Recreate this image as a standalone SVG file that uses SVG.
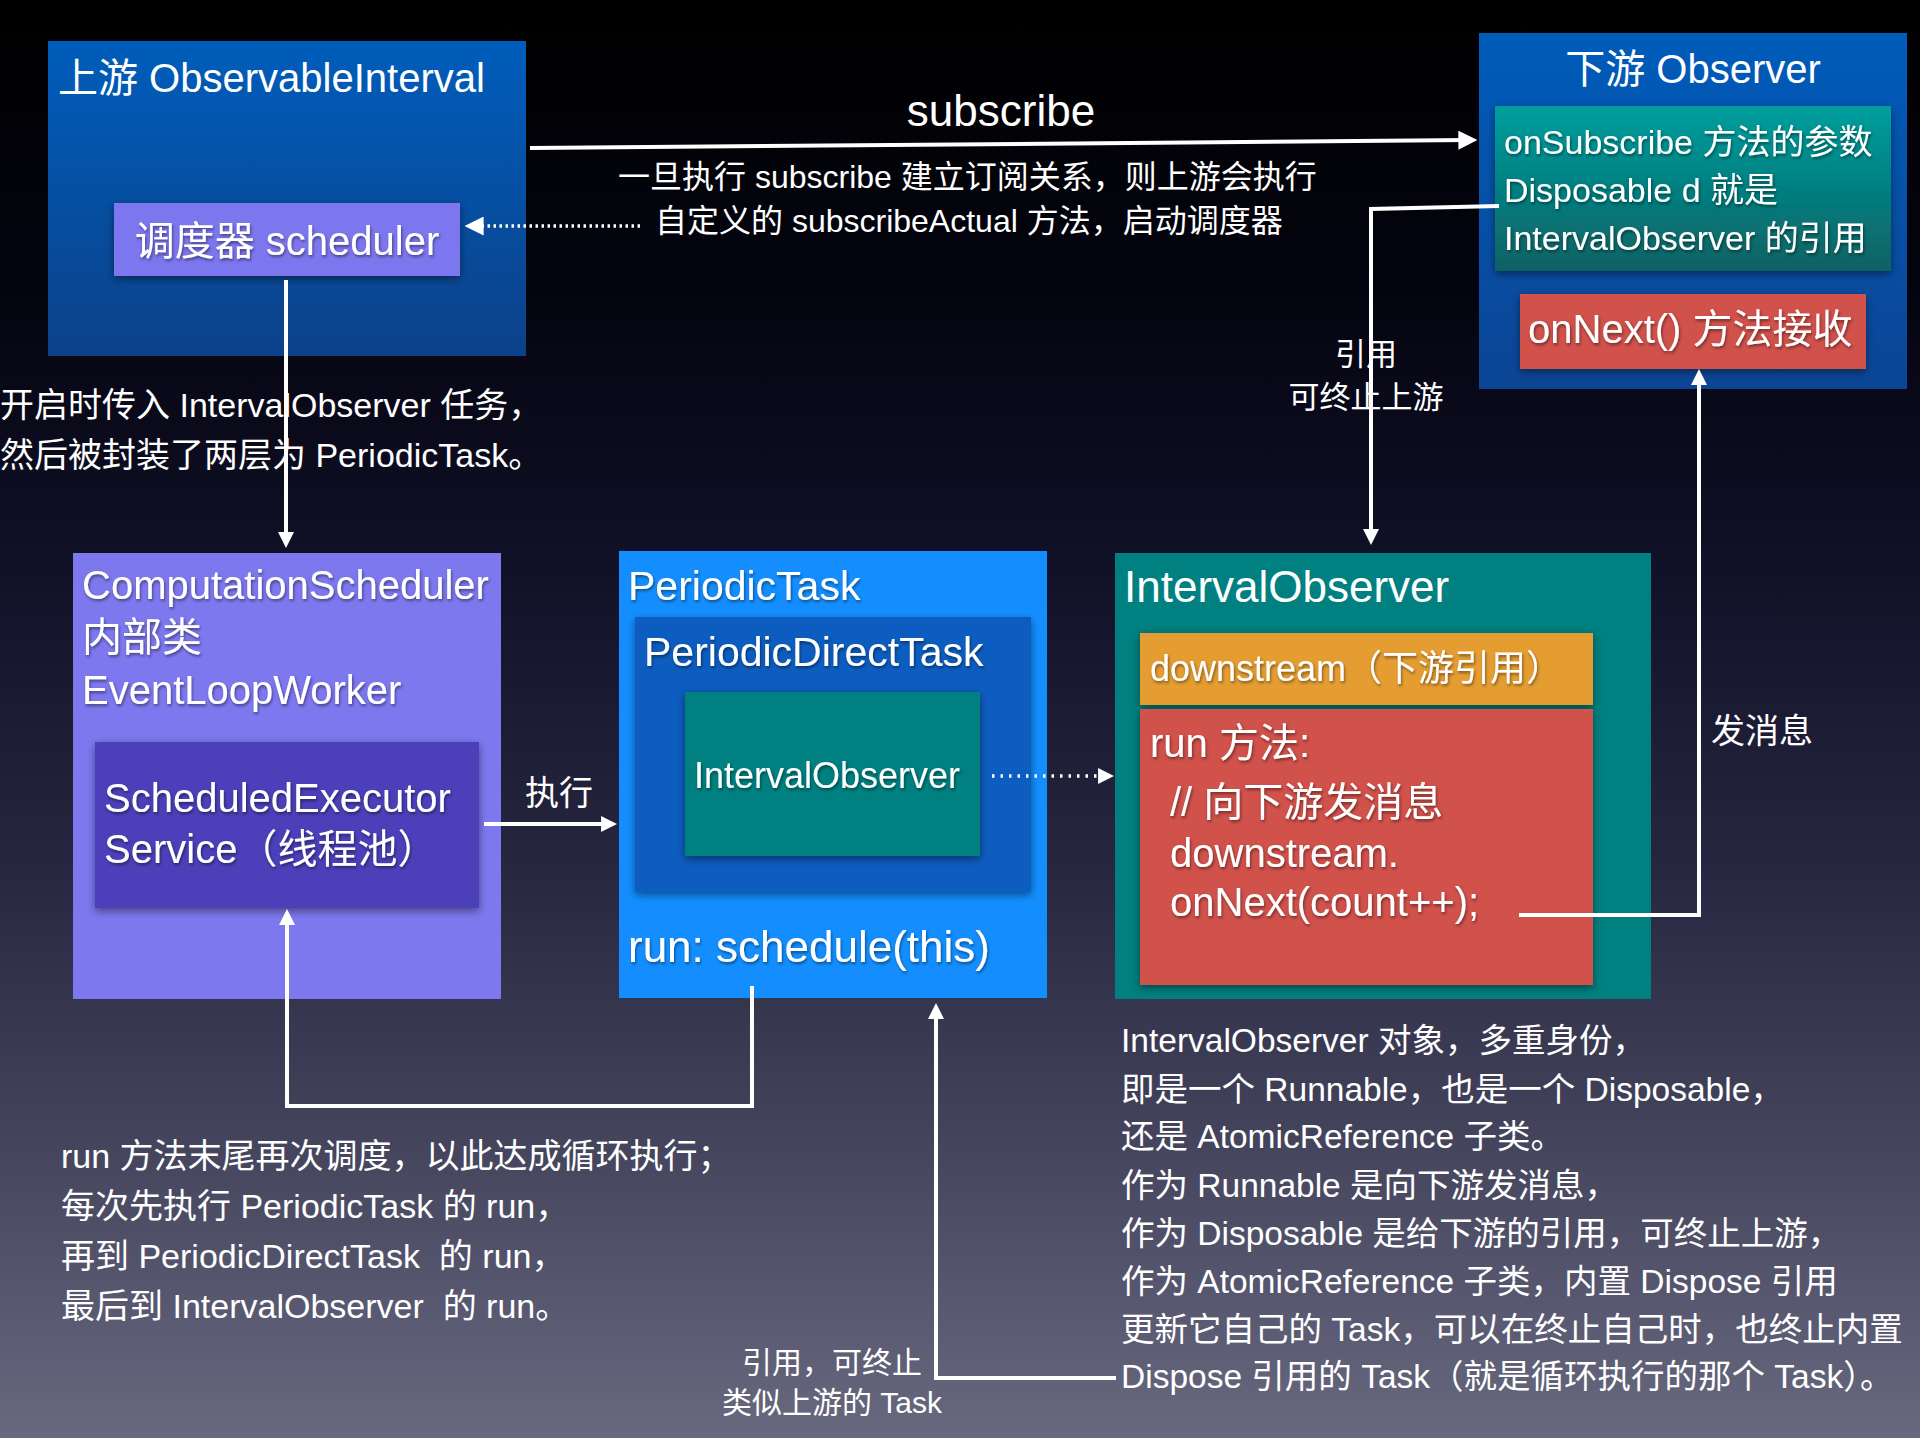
<svg xmlns="http://www.w3.org/2000/svg" width="1920" height="1438" viewBox="0 0 1920 1438">
<defs>
<style>
text{font-family:"Liberation Sans","Noto Sans CJK SC",sans-serif;fill:#fff;white-space:pre}
.ts{filter:url(#tsh)}
.ln{fill:none;stroke:#fff;stroke-width:4}
.dot{fill:none;stroke:#fff;stroke-width:3.5;stroke-dasharray:2.5 3.5}
.dot2{fill:none;stroke:#fff;stroke-width:3.5;stroke-dasharray:2.5 6}
.sh{filter:url(#bsh)}
</style>
<linearGradient id="bg" x1="0" y1="0" x2="0" y2="1">
<stop offset="0" stop-color="#000000"/>
<stop offset="0.2" stop-color="#040410"/>
<stop offset="0.4" stop-color="#111128"/>
<stop offset="0.6" stop-color="#262640"/>
<stop offset="0.8" stop-color="#45455e"/>
<stop offset="1" stop-color="#68687f"/>
</linearGradient>
<linearGradient id="blueG" x1="0" y1="0" x2="0" y2="1">
<stop offset="0" stop-color="#005dbb"/>
<stop offset="1" stop-color="#0c4189"/>
</linearGradient>
<linearGradient id="blueG2" x1="0" y1="0" x2="0" y2="1">
<stop offset="0" stop-color="#005cba"/>
<stop offset="1" stop-color="#0c4595"/>
</linearGradient>
<linearGradient id="tealG" x1="0" y1="0" x2="0" y2="1">
<stop offset="0" stop-color="#009e9e"/>
<stop offset="1" stop-color="#0a6163"/>
</linearGradient>
<filter id="tsh" x="-10%" y="-30%" width="120%" height="160%">
<feDropShadow dx="1" dy="2" stdDeviation="1.5" flood-color="#000" flood-opacity="0.45"/>
</filter>
<filter id="bsh" x="-10%" y="-10%" width="120%" height="125%">
<feDropShadow dx="0" dy="3" stdDeviation="4" flood-color="#000" flood-opacity="0.45"/>
</filter>
<marker id="ahL" viewBox="0 0 10 10" refX="5.6" refY="5" markerWidth="19" markerHeight="19" markerUnits="userSpaceOnUse" orient="auto">
<path d="M0,0 L10,5 L0,10 z" fill="#fff"/>
</marker>
<marker id="ah" viewBox="0 0 10 10" refX="5.6" refY="5" markerWidth="16" markerHeight="16" markerUnits="userSpaceOnUse" orient="auto">
<path d="M0,0 L10,5 L0,10 z" fill="#fff"/>
</marker>
</defs>

<rect x="0" y="0" width="1920" height="1438" fill="url(#bg)"/>

<g id="upstream">
<rect x="48" y="41" width="478" height="315" fill="url(#blueG)"/>
<text x="58" y="92" font-size="40">上游 ObservableInterval</text>
</g>

<g id="scheduler">
<rect class="sh" x="114" y="203" width="346" height="73" fill="#7b77ee"/>
<text class="ts" x="287" y="255" font-size="40" text-anchor="middle">调度器 scheduler</text>
</g>

<g id="downstream-observer">
<rect x="1479" y="33" width="428" height="356" fill="url(#blueG2)"/>
<text x="1693" y="83" font-size="40" text-anchor="middle">下游 Observer</text>
</g>

<g id="onsubscribe">
<rect class="sh" x="1495" y="106" width="396" height="165" fill="url(#tealG)"/>
<text class="ts" x="1504" y="154" font-size="34">onSubscribe 方法的参数</text>
<text class="ts" x="1504" y="202" font-size="34">Disposable d 就是</text>
<text class="ts" x="1504" y="250" font-size="34">IntervalObserver 的引用</text>
</g>

<g id="onnext">
<rect class="sh" x="1520" y="294" width="346" height="75" fill="#d1514b"/>
<text class="ts" x="1528" y="343" font-size="40">onNext() 方法接收</text>
</g>

<g id="computation-scheduler">
<rect x="73" y="553" width="428" height="446" fill="#7d78ee"/>
<text class="ts" x="82" y="599" font-size="40">ComputationScheduler</text>
<text class="ts" x="82" y="651" font-size="40">内部类</text>
<text class="ts" x="82" y="704" font-size="40">EventLoopWorker</text>
</g>

<g id="executor">
<rect class="sh" x="95" y="742" width="384" height="166" fill="#4c3fb9"/>
<text class="ts" x="104" y="812" font-size="40">ScheduledExecutor</text>
<text class="ts" x="104" y="863" font-size="40">Service（线程池）</text>
</g>

<g id="periodic-task">
<rect x="619" y="551" width="428" height="447" fill="#148eff"/>
<text class="ts" x="628" y="600" font-size="41">PeriodicTask</text>
<text class="ts" x="628" y="962" font-size="44">run: schedule(this)</text>
</g>

<g id="periodic-direct-task">
<rect class="sh" x="635" y="617" width="396" height="275" fill="#075dc0"/>
<text class="ts" x="644" y="666" font-size="41">PeriodicDirectTask</text>
</g>

<g id="inner-interval-observer">
<rect class="sh" x="685" y="692" width="295" height="164" fill="#008080"/>
<text class="ts" x="694" y="788" font-size="36">IntervalObserver</text>
</g>

<g id="interval-observer">
<rect x="1115" y="553" width="536" height="446" fill="#008080"/>
<text x="1124" y="602" font-size="44">IntervalObserver</text>
</g>

<g id="downstream-ref">
<rect class="sh" x="1140" y="633" width="453" height="72" fill="#e59d31"/>
<text class="ts" x="1150" y="681" font-size="36">downstream（下游引用）</text>
</g>

<g id="run-method">
<rect class="sh" x="1140" y="709" width="453" height="276" fill="#d1514b"/>
<text class="ts" x="1150" y="757" font-size="40">run 方法:</text>
<text class="ts" x="1170" y="816" font-size="40">// 向下游发消息</text>
<text class="ts" x="1170" y="867" font-size="40">downstream.</text>
<text class="ts" x="1170" y="916" font-size="40">onNext(count++);</text>
</g>

<g id="connectors">
<path class="ln" d="M530,148 L1469,140.1" stroke-width="4.5" marker-end="url(#ahL)"/>
<path class="dot" d="M640,226 H473" marker-end="url(#ahL)"/>
<path class="ln" d="M286,280 V541" marker-end="url(#ah)"/>
<path class="ln" d="M484,824 H610" marker-end="url(#ah)"/>
<path class="dot2" d="M992,776 H1107" marker-end="url(#ah)"/>
<path class="ln" d="M1499,206 L1371,209 V538" marker-end="url(#ah)"/>
<path class="ln" d="M1519,915 H1699 V376" marker-end="url(#ah)"/>
<path class="ln" d="M752,986 V1106 H287 V916" marker-end="url(#ah)"/>
<path class="ln" d="M1116,1378 H936 V1010" marker-end="url(#ah)"/>
</g>

<g id="labels">
<text x="1001" y="126" font-size="44" text-anchor="middle">subscribe</text>
<text x="618" y="188" font-size="32">一旦执行 subscribe 建立订阅关系，则上游会执行</text>
<text x="655" y="232" font-size="32">自定义的 subscribeActual 方法，启动调度器</text>
<text x="0" y="417" font-size="34">开启时传入 IntervalObserver 任务，</text>
<text x="0" y="467" font-size="34">然后被封装了两层为 PeriodicTask。</text>
<text x="1366" y="365" font-size="31" text-anchor="middle">引用</text>
<text x="1366" y="408" font-size="31" text-anchor="middle">可终止上游</text>
<text x="525" y="805" font-size="34">执行</text>
<text x="1711" y="743" font-size="34">发消息</text>
<text x="832" y="1373" font-size="30" text-anchor="middle">引用，可终止</text>
<text x="832" y="1413" font-size="30" text-anchor="middle">类似上游的 Task</text>
</g>

<g id="note-left">
<text x="61" y="1168" font-size="34">run 方法末尾再次调度，以此达成循环执行；</text>
<text x="61" y="1218" font-size="34">每次先执行 PeriodicTask 的 run，</text>
<text x="61" y="1268" font-size="34">再到 PeriodicDirectTask  的 run，</text>
<text x="61" y="1318" font-size="34">最后到 IntervalObserver  的 run。</text>
</g>

<g id="note-right">
<text x="1121" y="1052" font-size="33.5">IntervalObserver 对象，多重身份，</text>
<text x="1121" y="1101" font-size="33.5">即是一个 Runnable，也是一个 Disposable，</text>
<text x="1121" y="1148" font-size="33.5">还是 AtomicReference 子类。</text>
<text x="1121" y="1197" font-size="33.5">作为 Runnable 是向下游发消息，</text>
<text x="1121" y="1245" font-size="33.5">作为 Disposable 是给下游的引用，可终止上游，</text>
<text x="1121" y="1293" font-size="33.5">作为 AtomicReference 子类，内置 Dispose 引用</text>
<text x="1121" y="1341" font-size="33.5">更新它自己的 Task，可以在终止自己时，也终止内置</text>
<text x="1121" y="1388" font-size="33.5">Dispose 引用的 Task（就是循环执行的那个 Task）。</text>
</g>
</svg>
